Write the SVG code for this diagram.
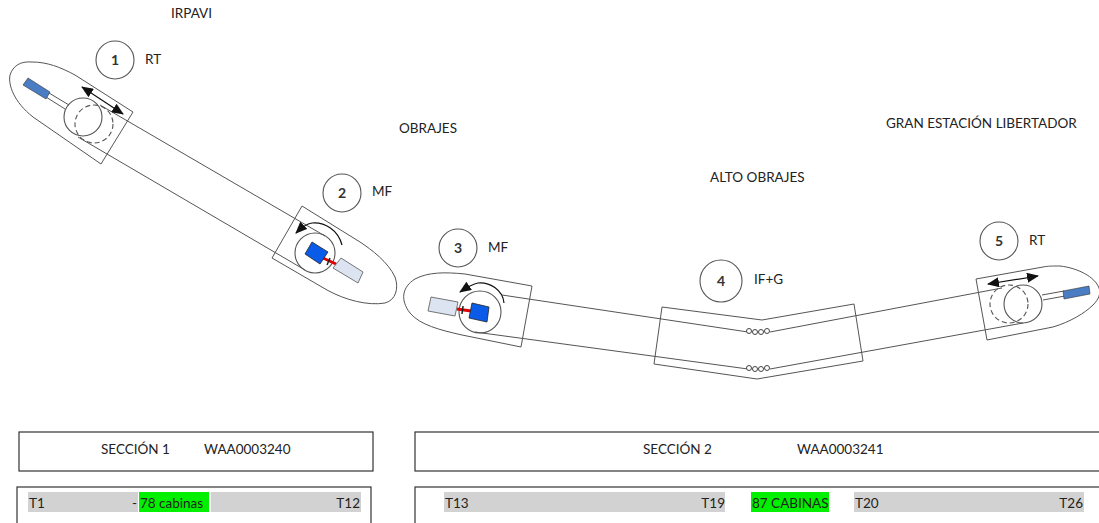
<svg xmlns="http://www.w3.org/2000/svg" width="1099" height="523" viewBox="0 0 1099 523">
<defs>
<marker id="ah" markerWidth="12" markerHeight="10" refX="11" refY="5" orient="auto-start-reverse" markerUnits="userSpaceOnUse"><path d="M0 0L12 5L0 10Z" fill="#111"/></marker>
</defs>
<style>
text{font-family:"Lato","Liberation Sans",sans-serif;font-size:13.5px;fill:#222}
.n{font-size:14px;text-anchor:middle;font-weight:700;fill:#333}
.l{fill:none;stroke:#555;stroke-width:1}
.c{fill:none;stroke:#555;stroke-width:1.1}
.d{stroke-dasharray:5 3}
.w{fill:#fff;stroke:#444;stroke-width:1}
.s{fill:#0a5ce8;stroke:#222;stroke-width:.8}
.g{fill:#dbe4f0;stroke:#555;stroke-width:.8}
.b{fill:#4a7dc4;stroke:#333;stroke-width:.6}
.box{fill:#fff;stroke:#333;stroke-width:1.2}
.a{fill:none;stroke:#111;stroke-width:1.2}
.band{fill:#d2d2d2}
.green{fill:#00f000}
</style>
<g id="connectors">
<path class="l" d="M100 105L325 236M78 137L305 270"/>
<path class="l" d="M502 295L748 332M475 332L748 369M770 332L1002 288M770 369L1023 323"/>
</g>
<g id="station-1">
<path class="l" d="M133 112L101 164L33 117C14 102 8 85 10 75C13 66 20 61 32 62C47 62 60 67 75 75Z"/>
<path class="l" d="M49 93L69 105M46 97L65 109"/>
<polygon class="b" points="28,78 50,92 46,99 23,85"/>
<circle class="c" cx="83" cy="117" r="19"/>
<circle class="c d" cx="94" cy="124" r="19"/>
<path class="a" d="M82 87L123 114" marker-start="url(#ah)" marker-end="url(#ah)"/>
<circle class="c" cx="115" cy="60" r="19"/>
<text class="n" x="115" y="65">1</text>
<text x="145" y="64">RT</text>
<text x="171" y="18">IRPAVI</text>
</g>
<g id="station-2">
<path class="l" d="M302 206L272 258L327 290C345 300 368 306 385 303C396 300 399 288 395 277C388 262 372 250 360 242Z"/>
<circle class="c" cx="315" cy="253" r="20"/>
<path class="a" d="M342 245C338 230 325 222 312 223C306 224 301 228 296 233" marker-end="url(#ah)"/>
<line x1="323" y1="258" x2="336" y2="264" stroke="#e00000" stroke-width="3"/>
<line x1="330" y1="258" x2="327" y2="265" stroke="#222" stroke-width="1.5"/>
<polygon class="s" points="312,242 328,252 320,264 305,254"/>
<polygon class="g" points="341,258 363,272 358,283 333,268"/>
<circle class="c" cx="342" cy="193" r="19"/>
<text class="n" x="342" y="198">2</text>
<text x="372" y="196">MF</text>
<text x="399" y="133">OBRAJES</text>
</g>
<g id="station-3">
<path class="l" d="M532 286L521 347L462 335C440 330 420 325 410 313C400 300 402 287 415 279C428 272 445 272 465 274Z"/>
<circle class="c" cx="480" cy="312" r="21"/>
<path class="a" d="M504 303C503 290 490 282 478 283C472 284 466 288 460 292" marker-end="url(#ah)"/>
<line x1="457" y1="309" x2="471" y2="311" stroke="#e00000" stroke-width="3"/>
<line x1="463" y1="306" x2="462" y2="314" stroke="#222" stroke-width="1.5"/>
<polygon class="s" points="472,303 489,307 487,322 469,318"/>
<polygon class="g" points="431,297 458,302 455,316 428,311"/>
<circle class="c" cx="458" cy="248" r="19"/>
<text class="n" x="458" y="253">3</text>
<text x="488" y="252">MF</text>
</g>
<g id="station-4">
<path class="l" d="M662 307L762 320L854 304L863 361L757 379L654 364Z"/>
<g class="w">
<circle cx="749" cy="331" r="2.5"/><circle cx="755" cy="332" r="2.5"/><circle cx="761" cy="332" r="2.5"/><circle cx="767" cy="331" r="2.5"/>
<circle cx="749" cy="368" r="2.5"/><circle cx="755" cy="369" r="2.5"/><circle cx="761" cy="369" r="2.5"/><circle cx="767" cy="368" r="2.5"/>
</g>
<circle class="c" cx="721" cy="281" r="21"/>
<text class="n" x="721" y="286">4</text>
<text x="754" y="284">IF+G</text>
<text x="710" y="182">ALTO OBRAJES</text>
</g>
<g id="station-5">
<path class="l" d="M976 279L987 340L1053 327C1070 322 1085 313 1093 305C1099 299 1101 293 1099 288C1095 277 1078 268 1060 266C1052 266 1048 266 1043 267Z"/>
<path class="l" d="M1042 295L1064 291M1043 300L1065 296"/>
<polygon class="b" points="1063,291 1089,286 1090,294 1064,299"/>
<circle class="c" cx="1023" cy="304" r="19"/>
<circle class="c d" cx="1009" cy="304" r="19"/>
<path class="a" d="M988 284L1038 276" marker-start="url(#ah)" marker-end="url(#ah)"/>
<circle class="c" cx="999" cy="241" r="19"/>
<text class="n" x="999" y="246">5</text>
<text x="1029" y="245">RT</text>
<text x="886" y="128">GRAN ESTACIÓN LIBERTADOR</text>
</g>
<g id="section-1">
<rect class="box" x="19" y="432" width="354" height="39"/>
<text x="101" y="454">SECCIÓN 1</text>
<text x="204" y="454">WAA0003240</text>
<rect class="box" x="17" y="487" width="354" height="50"/>
<rect class="band" x="28" y="492" width="110" height="20"/>
<rect class="green" x="139" y="492" width="70" height="20"/>
<rect class="band" x="211" y="492" width="150" height="20"/>
<text x="29" y="508">T1</text>
<text x="132" y="508">-</text>
<text x="140" y="508">78 cabinas</text>
<text x="360" y="508" text-anchor="end">T12</text>
</g>
<g id="section-2">
<rect class="box" x="415" y="432" width="700" height="39"/>
<text x="643" y="454">SECCIÓN 2</text>
<text x="797" y="454">WAA0003241</text>
<rect class="box" x="415" y="487" width="700" height="50"/>
<rect class="band" x="444" y="492" width="281" height="20"/>
<rect class="green" x="751" y="492" width="78" height="20"/>
<rect class="band" x="854" y="492" width="230" height="20"/>
<text x="445" y="508">T13</text>
<text x="725" y="508" text-anchor="end">T19</text>
<text x="752" y="508">87 CABINAS</text>
<text x="855" y="508">T20</text>
<text x="1083" y="508" text-anchor="end">T26</text>
</g>
</svg>
